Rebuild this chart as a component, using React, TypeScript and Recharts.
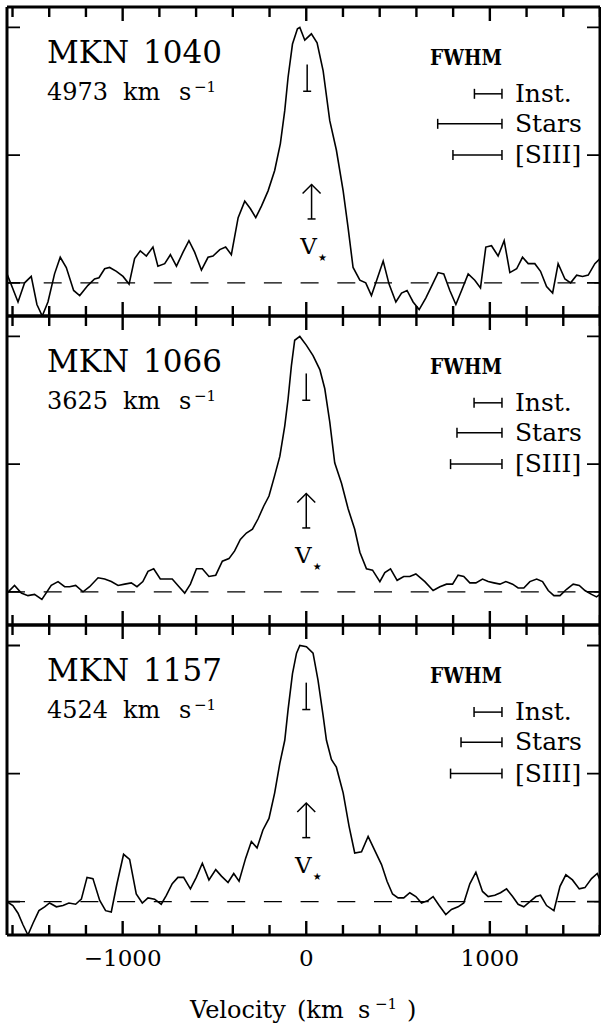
import React from 'react';
import { LineChart, Line, XAxis, YAxis, ReferenceLine } from 'recharts';

const FONT = '"DejaVu Serif", serif';
const INK = '#000';
const serif = { fontFamily: FONT };

// axes
const X_DOMAIN: [number, number] = [-1630, 1600];
const Y_DOMAIN: [number, number] = [-0.26, 2.16];
const X_TICKS = [-1600, -1400, -1200, -1000, -800, -600, -400, -200, 0, 200, 400, 600, 800, 1000, 1200, 1400, 1600];
const X_MAJOR = [-1000, 0, 1000];
const Y_TICKS = [0, 1, 2];

// galaxies
const galaxyNames = ['MKN 1040', 'MKN 1066', 'MKN 1157'];
const systemicVel = [4973, 3625, 4524];

// MKN 1040 profile
const vel1040 = [
  -1630, -1570, -1534, -1498, -1467, -1438, -1407, -1371, -1340, -1307,
  -1267, -1234, -1189, -1153, -1129, -1098, -1071, -1034, -998, -965,
  -935, -904, -871, -835, -808, -771, -740, -707, -671, -639,
  -608, -571, -535, -508, -471, -439, -408, -371, -335, -304,
  -275, -244, -208, -172, -141, -117, -99, -75, -48, -35,
  -8, 28, 59, 92, 128, 164, 201, 228, 255, 292,
  324, 355, 386, 419, 451, 488, 519, 549, 582, 615,
  651, 688, 718, 749, 782, 815, 846, 882, 918, 949,
  978, 1009, 1045, 1078, 1109, 1146, 1178, 1209, 1245, 1276,
  1309, 1342, 1372, 1409, 1440, 1473, 1505, 1536, 1572, 1600,
];
const flux1040 = [
  0.07, -0.15, 0.0, 0.05, -0.17, -0.26, -0.15, 0.07, 0.2, 0.12,
  -0.06, -0.1, -0.02, 0.03, 0.04, 0.11, 0.12, 0.09, 0.05, -0.01,
  0.19, 0.25, 0.21, 0.28, 0.13, 0.15, 0.22, 0.13, 0.24, 0.33,
  0.24, 0.1, 0.2, 0.21, 0.26, 0.28, 0.22, 0.51, 0.64, 0.58,
  0.51, 0.6, 0.72, 0.88, 1.09, 1.35, 1.61, 1.87, 1.99, 2.0,
  1.9, 1.95, 1.88, 1.66, 1.27, 1.04, 0.72, 0.43, 0.12, 0.02,
  0.0, -0.1, 0.03, 0.17, -0.01, -0.15, -0.08, -0.06, -0.15, -0.21,
  -0.12, -0.01, 0.08, 0.07, -0.06, -0.17, -0.06, 0.07, 0.02, -0.04,
  0.28, 0.29, 0.21, 0.33, 0.08, 0.11, 0.2, 0.15, 0.15, 0.09,
  -0.03, -0.08, 0.15, 0.03, 0.0, 0.06, 0.05, 0.06, 0.15, 0.19,
];

// MKN 1066 profile
const vel1066 = [
  -1630, -1589, -1552, -1516, -1480, -1440, -1389, -1352, -1316, -1289,
  -1256, -1216, -1180, -1134, -1098, -1062, -1025, -989, -953, -922,
  -890, -862, -831, -795, -762, -730, -693, -662, -631, -598,
  -566, -530, -493, -457, -421, -390, -359, -326, -293, -263,
  -232, -203, -172, -144, -117, -99, -81, -63, -35, 1,
  37, 74, 101, 128, 155, 192, 228, 264, 292, 328,
  361, 401, 428, 459, 495, 531, 564, 597, 646, 691,
  728, 764, 797, 827, 858, 891, 924, 960, 991, 1022,
  1055, 1087, 1124, 1154, 1185, 1218, 1255, 1287, 1318, 1349,
  1382, 1418, 1454, 1487, 1518, 1554, 1581, 1600,
];
const flux1066 = [
  -0.01, 0.05, -0.01, -0.03, -0.02, -0.06, 0.05, 0.08, 0.04, 0.04,
  0.05, 0.0, 0.04, 0.11, 0.1, 0.08, 0.05, 0.06, 0.07, 0.04,
  0.08, 0.16, 0.18, 0.1, 0.1, 0.1, 0.04, -0.01, 0.06, 0.18,
  0.18, 0.12, 0.13, 0.24, 0.26, 0.32, 0.41, 0.46, 0.49, 0.57,
  0.67, 0.75, 0.91, 1.06, 1.3, 1.51, 1.77, 1.97, 2.0, 1.93,
  1.85, 1.74, 1.59, 1.33, 1.01, 0.85, 0.65, 0.49, 0.31, 0.18,
  0.17, 0.08, 0.15, 0.18, 0.09, 0.12, 0.12, 0.14, 0.08, 0.01,
  0.04, 0.06, 0.06, 0.13, 0.12, 0.07, 0.07, 0.1, 0.08, 0.07,
  0.06, 0.08, 0.06, 0.03, 0.03, 0.08, 0.1, 0.08, 0.01, -0.03,
  -0.03, 0.02, 0.06, 0.05, 0.01, -0.02, -0.04, -0.02,
];

// MKN 1157 profile
const vel1157 = [
  -1630, -1598, -1570, -1543, -1516, -1489, -1456, -1425, -1398, -1361,
  -1325, -1293, -1256, -1225, -1194, -1162, -1125, -1093, -1062, -1031,
  -995, -962, -926, -893, -862, -826, -790, -762, -730, -699,
  -668, -631, -599, -566, -530, -493, -462, -426, -395, -366,
  -330, -299, -268, -236, -203, -172, -144, -117, -99, -75,
  -53, -35, 1, 37, 64, 92, 110, 137, 164, 201,
  233, 264, 301, 337, 373, 410, 440, 470, 500, 531,
  564, 597, 628, 664, 691, 724, 760, 791, 827, 858,
  891, 924, 960, 991, 1027, 1058, 1091, 1124, 1154, 1185,
  1218, 1251, 1276, 1309, 1349, 1382, 1414, 1450, 1487, 1518,
  1554, 1585, 1600,
];
const flux1157 = [
  0.0, -0.03, -0.09, -0.18, -0.26, -0.17, -0.07, -0.04, -0.01, -0.04,
  -0.03, -0.01, -0.02, 0.02, 0.19, 0.18, 0.01, -0.07, -0.08, 0.14,
  0.37, 0.33, 0.06, -0.01, 0.03, 0.02, -0.02, 0.05, 0.14, 0.19,
  0.19, 0.1, 0.19, 0.3, 0.17, 0.25, 0.2, 0.15, 0.22, 0.16,
  0.34, 0.47, 0.42, 0.56, 0.65, 0.85, 1.08, 1.26, 1.5, 1.78,
  1.94, 2.0, 1.99, 1.94, 1.73, 1.45, 1.26, 1.11, 1.05, 0.85,
  0.59, 0.38, 0.39, 0.51, 0.4, 0.29, 0.16, 0.06, 0.03, 0.03,
  0.07, 0.04, -0.01, 0.01, 0.04, -0.03, -0.1, -0.06, -0.04, -0.01,
  0.14, 0.23, 0.08, 0.04, 0.05, 0.07, 0.1, 0.04, -0.02, -0.04,
  0.0, 0.04, 0.05, -0.03, -0.07, 0.12, 0.21, 0.17, 0.1, 0.11,
  0.18, 0.22, 0.17,
];

// FWHM scale bars (km/s), right-aligned at FWHM_END
const fwhmLabels = ['Inst.', 'Stars', '[SIII]'];
const fwhmLevels = [1.48, 1.245, 1.0];
const fwhm1040 = [150, 350, 267];
const fwhm1066 = [152, 245, 280];
const fwhm1157 = [152, 223, 280];
const FWHM_END = 1066;

// line centre marks and stellar velocity arrows (km/s)
const lineCentre = [5, 0, 0];
const starVel = [29, 0, 0];
const LINE_MARK_Y: [number, number] = [1.71, 1.5];
const ARROW_Y: [number, number] = [0.5, 0.77];

const VELS = [vel1040, vel1066, vel1157];
const FLUXES = [flux1040, flux1066, flux1157];
const FWHMS = [fwhm1040, fwhm1066, fwhm1157];

// layout
const PLOT_LEFT = 7;
const PLOT_RIGHT = 600;
const PLOT_TOP = [7, 316, 625];
const PLOT_BOTTOM = [316, 625, 935];
const PAD = 6;

const fmt = (v: number) => (v < 0 ? '\u2212' + Math.abs(v) : String(v));

const labelTick = (p: any) => (
  <text x={p.x} y={p.y + 31} textAnchor="middle" style={serif} fontSize={23} fill={INK}>
    {fmt(p.payload.value)}
  </text>
);

// y ticks: inward stubs at both ends of a full-width segment
const yTickShape = (p: any) => {
  const xl = Math.min(p.x1, p.x2);
  const xr = Math.max(p.x1, p.x2);
  return (
    <path d={`M${xl},${p.y1}H${xl + 13}M${xr},${p.y1}H${xr - 13}`} stroke={INK} strokeWidth={1.8} fill="none" />
  );
};

const fwhmShape = (label: string) => (p: any) => (
  <g>
    <line x1={p.x1} y1={p.y1} x2={p.x2} y2={p.y2} stroke={INK} strokeWidth={1.5} />
    <line x1={p.x1} x2={p.x1} y1={p.y1 - 5} y2={p.y1 + 5} stroke={INK} strokeWidth={1.5} />
    <line x1={p.x2} x2={p.x2} y1={p.y2 - 5} y2={p.y2 + 5} stroke={INK} strokeWidth={1.5} />
    <text x={p.x2 + 13} y={p.y2 + 8} style={serif} fontSize={25} fill={INK}>{label}</text>
  </g>
);

// vertical bar with a foot at its lower end
const lineMarkShape = (p: any) => (
  <g stroke={INK} strokeWidth={1.5}>
    <line x1={p.x1} y1={p.y1} x2={p.x2} y2={p.y2} />
    <line x1={p.x2 - 4} x2={p.x2 + 4} y1={p.y2} y2={p.y2} />
  </g>
);

// arrow from base (x1,y1) up to tip (x2,y2), with V* label under it
const arrowShape = (p: any) => (
  <g>
    <g stroke={INK} strokeWidth={1.5} fill="none">
      <line x1={p.x1} y1={p.y1} x2={p.x2} y2={p.y2} />
      <line x1={p.x1 - 4} x2={p.x1 + 4} y1={p.y1} y2={p.y1} />
      <polyline points={`${p.x2 - 9},${p.y2 + 9} ${p.x2},${p.y2} ${p.x2 + 9},${p.y2 + 9}`} />
    </g>
    <text x={p.x1 - 3} y={p.y1 + 35} textAnchor="middle" style={serif} fontSize={23} fill={INK}>V</text>
    <text x={p.x1 + 11} y={p.y1 + 42} textAnchor="middle" style={{ fontFamily: '"DejaVu Sans", sans-serif' }} fontSize={10} fill={INK}>{'\u2605'}</text>
  </g>
);

const Panel = ({ i }: { i: number }) => {
  const top = PLOT_TOP[i];
  const plotH = PLOT_BOTTOM[i] - top;
  const last = i === 2;
  const height = last ? 1025 - (top - PAD) : plotH + 2 * PAD;
  const data = VELS[i].map((v, k) => ({ v, f: FLUXES[i][k] }));
  const frame = { stroke: INK, strokeWidth: 3 };

  return (
    <div style={{ position: 'absolute', left: 0, top: top - PAD }}>
      <LineChart
        width={601}
        height={height}
        data={data}
        margin={{ top: PAD - 1, right: 601 - PLOT_RIGHT - 1, bottom: height - PAD - plotH - 1, left: PLOT_LEFT - 1 }}
      >
        <XAxis xAxisId="b" dataKey="v" type="number" domain={X_DOMAIN} allowDataOverflow ticks={X_MAJOR} interval={0}
          height={1} tickSize={0} tickMargin={0} tickLine={false} axisLine={frame} tick={last ? labelTick : false} />
        <XAxis xAxisId="t" orientation="top" type="number" domain={X_DOMAIN} allowDataOverflow ticks={X_MAJOR} interval={0}
          height={1} tickSize={0} tickMargin={0} tickLine={false} axisLine={frame} tick={false} />
        <YAxis yAxisId="l" type="number" domain={Y_DOMAIN} allowDataOverflow ticks={Y_TICKS}
          width={1} tickSize={0} tickMargin={0} tickLine={false} axisLine={frame} tick={false} />
        <YAxis yAxisId="r" orientation="right" type="number" domain={Y_DOMAIN} allowDataOverflow ticks={Y_TICKS}
          width={1} tickSize={0} tickMargin={0} tickLine={false} axisLine={frame} tick={false} />

        {Y_TICKS.map((y) => (
          <ReferenceLine key={`y${y}`} xAxisId="b" yAxisId="l" ifOverflow="visible"
            segment={[{ x: X_DOMAIN[0], y }, { x: X_DOMAIN[1], y }]}
            shape={yTickShape} />
        ))}

        <ReferenceLine xAxisId="b" yAxisId="l" y={0} stroke={INK} strokeWidth={1.3} strokeDasharray="18 18.7" />
        <Line xAxisId="b" yAxisId="l" dataKey="f" type="linear" stroke={INK} strokeWidth={1.6}
          dot={false} isAnimationActive={false} />
        <ReferenceLine xAxisId="b" yAxisId="l"
          segment={[{ x: lineCentre[i], y: LINE_MARK_Y[0] }, { x: lineCentre[i], y: LINE_MARK_Y[1] }]}
          shape={lineMarkShape} />
        <ReferenceLine xAxisId="b" yAxisId="l"
          segment={[{ x: starVel[i], y: ARROW_Y[0] }, { x: starVel[i], y: ARROW_Y[1] }]}
          shape={arrowShape} />
        {fwhmLabels.map((label, k) => (
          <ReferenceLine key={label} xAxisId="b" yAxisId="l"
            segment={[{ x: FWHM_END - FWHMS[i][k], y: fwhmLevels[k] }, { x: FWHM_END, y: fwhmLevels[k] }]}
            shape={fwhmShape(label)} />
        ))}
      </LineChart>
    </div>
  );
};

// inward x tick marks on the top and bottom edge of every panel
const xPix = (v: number) =>
  PLOT_LEFT + ((v - X_DOMAIN[0]) / (X_DOMAIN[1] - X_DOMAIN[0])) * (PLOT_RIGHT - PLOT_LEFT);

const Overlay = () => (
  <svg width={601} height={1025} style={{ position: 'absolute', left: 0, top: 0, pointerEvents: 'none', fontFamily: FONT }}>
    <g stroke={INK} strokeWidth={2.4}>
      {PLOT_TOP.map((top, i) =>
        X_TICKS.map((v) => {
          const len = X_MAJOR.includes(v) ? 14 : 10;
          const x = xPix(v);
          return (
            <g key={`${i}-${v}`}>
              <line x1={x} x2={x} y1={top} y2={top + len} />
              <line x1={x} x2={x} y1={PLOT_BOTTOM[i]} y2={PLOT_BOTTOM[i] - len} />
            </g>
          );
        })
      )}
    </g>
    <g fill={INK}>
      {galaxyNames.map((name, i) => {
        const top = PLOT_TOP[i];
        const [a, b] = name.split(' ');
        return (
          <g key={name}>
            <text x={47} y={top + 56} fontSize={31}>{a}</text>
            <text x={143} y={top + 56} fontSize={31}>{b}</text>
            <text y={top + 93} fontSize={24}>
              <tspan x={47}>{systemicVel[i]}</tspan>
              <tspan x={123}>km</tspan>
              <tspan x={179}>s</tspan>
              <tspan x={194} dy={-8} fontSize={15}>{'\u22121'}</tspan>
            </text>
            <text x={430} y={top + 58} fontSize={23} fontWeight="bold" textLength={72} lengthAdjust="spacingAndGlyphs">FWHM</text>
          </g>
        );
      })}
      <text y={1018} fontSize={24}>
        <tspan x={190}>Velocity</tspan>
        <tspan x={297}>(km</tspan>
        <tspan x={358}>s</tspan>
        <tspan x={375} dy={-9} fontSize={15}>{'\u22121'}</tspan>
        <tspan x={407} dy={9}>)</tspan>
      </text>
    </g>
  </svg>
);

export default function App() {
  return (
    <div style={{ position: 'absolute', left: 0, top: 0, width: 601, height: 1025, background: '#fff' }}>
      {[0, 1, 2].map((i) => (
        <Panel key={i} i={i} />
      ))}
      <Overlay />
    </div>
  );
}
